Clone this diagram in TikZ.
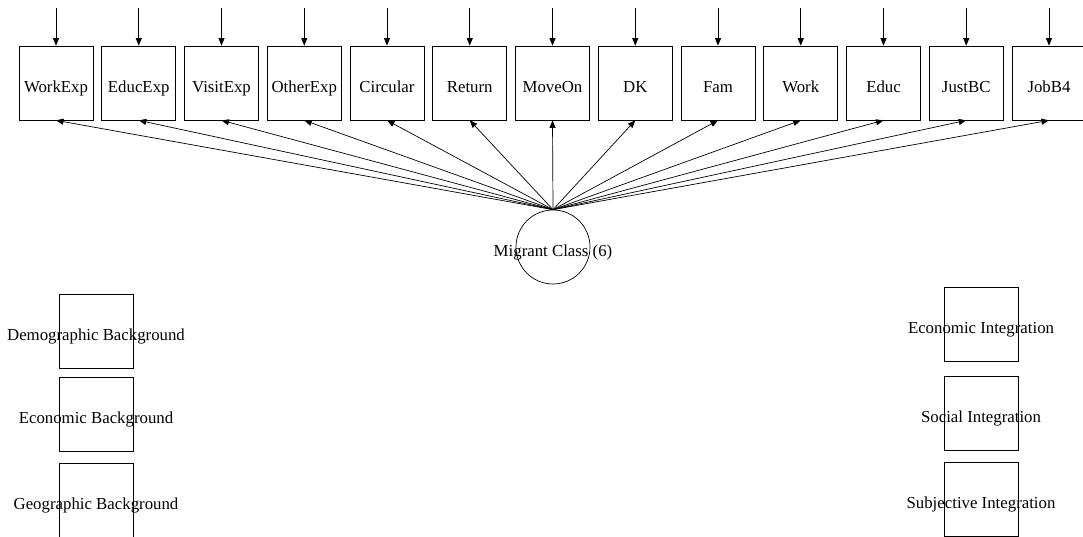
\documentclass[tikz,border=0pt]{standalone}
\usepackage{fontspec}
\setmainfont{Liberation Serif}
\usetikzlibrary{arrows.meta,positioning}

\begin{document}
\begin{tikzpicture}[x=1pt,y=1pt,node distance=82.75pt,on grid,
		font=\fontsize{16.8}{19}\selectfont,line width=0.7pt,
		>={Triangle[width=6pt,length=7.5pt]},
		var/.style={draw,rectangle,minimum size=74pt,inner sep=0pt,text height=19pt,text depth=0pt},
		latent/.style={draw,circle,minimum size=74pt,inner sep=0pt},
		every label/.style={inner sep=0pt,text height=19pt,text depth=0pt}]
			\useasboundingbox (0,0) rectangle (1083,536);
			% indicators
			\node[var] (WorkExp) at (56,453) {WorkExp};
			\node[var] (EducExp) [right=of WorkExp] {EducExp};
			\node[var] (VisitExp) [right=of EducExp] {VisitExp};
			\node[var] (OtherExp) [right=of VisitExp] {OtherExp};
			\node[var] (Circular) [right=of OtherExp] {Circular};
			\node[var] (Return) [right=of Circular] {Return};
			\node[var] (MoveOn) [right=of Return] {MoveOn};
			\node[var] (DK) [right=of MoveOn] {DK};
			\node[var] (Fam) [right=of DK] {Fam};
			\node[var] (Work) [right=of Fam] {Work};
			\node[var] (Educ) [right=of Work] {Educ};
			\node[var] (JustBC) [right=of Educ] {JustBC};
			\node[var] (JobB4) [right=of JustBC] {JobB4};
			% latent class
			\node[latent, label=center:Migrant Class (6)] (MigrantClass) at (553,289) {};
			% covariates and outcomes
			\node[var, label=center:Demographic Background] (DemoBg) at (96,205) {};
			\node[var, label=center:Economic Background] (EconBg) [below=83pt of DemoBg] {};
			\node[var, label=center:Geographic Background] (GeoBg) [below=86pt of EconBg] {};
			\node[var, label=center:Economic Integration] (EconInt) at (981,212) {};
			\node[var, label=center:Social Integration] (SocInt) [below=89pt of EconInt] {};
			\node[var, label=center:Subjective Integration] (SubjInt) [below=86pt of SocInt] {};
			% error terms
			\foreach \v in {WorkExp,EducExp,VisitExp,OtherExp,Circular,Return,MoveOn,DK,Fam,Work,Educ,JustBC,JobB4}{
				\coordinate[above=38pt of \v.north] (\v-e);
				\draw[->] (\v-e) -- (\v.north);
			}
			\path[->]
			(MigrantClass.north) edge (WorkExp.south)
			edge (EducExp.south)
			edge (VisitExp.south)
			edge (OtherExp.south)
			edge (Circular.south)
			edge (Return.south)
			edge (MoveOn.south)
			edge (DK.south)
			edge (Fam.south)
			edge (Work.south)
			edge (Educ.south)
			edge (JustBC.south)
			edge (JobB4.south);
		\end{tikzpicture}
\end{document}
